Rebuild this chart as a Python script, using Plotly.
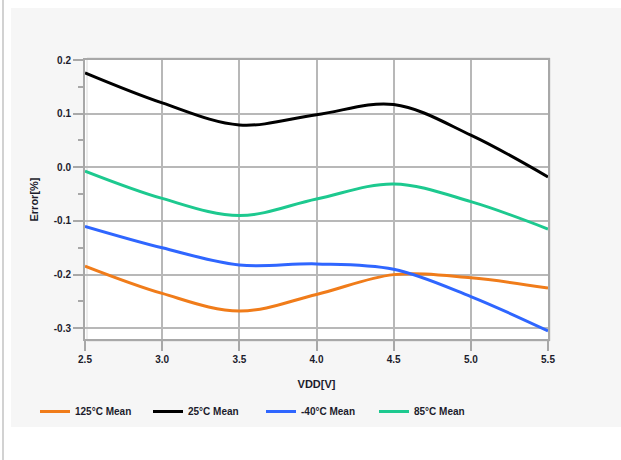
import plotly.graph_objects as go

# ---- data ----
vdd = [2.5, 3.0, 3.5, 4.0, 4.5, 5.0, 5.5]
err_125c = [-0.184, -0.235, -0.268, -0.237, -0.200, -0.206, -0.225]
err_25c = [0.176, 0.120, 0.079, 0.098, 0.117, 0.060, -0.018]
err_m40c = [-0.110, -0.150, -0.182, -0.180, -0.190, -0.241, -0.305]
err_85c = [-0.007, -0.058, -0.090, -0.059, -0.031, -0.064, -0.115]
series_names = ["125°C Mean", "25°C Mean", "-40°C Mean", "85°C Mean"]
x_tickvals = [2.5, 3.0, 3.5, 4.0, 4.5, 5.0, 5.5]
y_tickvals = [0.2, 0.1, 0.0, -0.1, -0.2, -0.3]
y_ticktext = ["0.2", "0.1", "0.0", "-0.1", "-0.2", "-0.3"]

# ---- layout geometry (pixels) ----
W, H = 621, 460
ML, MR, MT, MB = 85, 73, 60, 121
PW, PH = W - ML - MR, H - MT - MB


def px2x(px):
    return (px - ML) / PW


def py2y(py):
    return (H - MB - py) / PH


colors = ["#F07C1A", "#000000", "#2F66FF", "#1DC98F"]
series = [err_125c, err_25c, err_m40c, err_85c]

fig = go.Figure()
for name, ys, c in zip(series_names, series, colors):
    fig.add_trace(go.Scatter(
        x=vdd, y=ys, name=name, mode="lines",
        line=dict(color=c, width=3, shape="spline", smoothing=1.0),
        hoverinfo="skip",
    ))

FAM = "Liberation Sans, Arial, sans-serif"
font_tick = dict(family=FAM, size=10, color="#1c1c2c", weight="bold")
font_title = dict(family=FAM, size=11, color="#1c1c2c", weight="bold")

fig.update_layout(
    width=W, height=H,
    margin=dict(l=ML, r=MR, t=MT, b=MB, autoexpand=False),
    paper_bgcolor="#F6F6F6",
    plot_bgcolor="#FFFFFF",
    font=font_tick,
    showlegend=True,
    legend=dict(
        orientation="h", x=px2x(35), xanchor="left", y=py2y(397), yanchor="top",
        font=font_tick, bgcolor="rgba(0,0,0,0)", entrywidth=68, entrywidthmode="pixels",
        itemwidth=30,
    ),
    xaxis=dict(
        range=[2.5, 5.5], tickvals=x_tickvals, tickformat=".1f",
        showgrid=True, gridcolor="#B8B8B8", gridwidth=1.5,
        showline=True, linecolor="#A8A8A8", linewidth=2, mirror=True,
        ticks="outside", ticklen=10, tickcolor="#A8A8A8", tickwidth=2,
        zeroline=False, tickfont=font_tick,
        title=dict(text="VDD[V]", font=font_title, standoff=16),
    ),
    yaxis=dict(
        range=[-0.32, 0.2], tickvals=y_tickvals, ticktext=y_ticktext,
        showgrid=True, gridcolor="#B8B8B8", gridwidth=1.5,
        showline=True, linecolor="#A8A8A8", linewidth=2, mirror=True,
        ticks="outside", ticklen=10, tickcolor="#A8A8A8", tickwidth=2,
        minor=dict(dtick=0.05, ticks="outside", ticklen=5, tickcolor="#A8A8A8", tickwidth=1.5, showgrid=False),
        zeroline=False, tickfont=font_tick,
        title=dict(text="Error[%]", font=font_title, standoff=13),
    ),
)

# white page outside the grey panel, and the thin grey rule on the far left
white = "#FFFFFF"
shapes = [
    dict(type="rect", xref="paper", yref="paper", x0=px2x(0), x1=px2x(W), y0=py2y(0), y1=py2y(8),
         fillcolor=white, line=dict(width=0), layer="below"),
    dict(type="rect", xref="paper", yref="paper", x0=px2x(0), x1=px2x(11), y0=py2y(0), y1=py2y(H),
         fillcolor=white, line=dict(width=0), layer="below"),
    dict(type="rect", xref="paper", yref="paper", x0=px2x(0), x1=px2x(W), y0=py2y(427), y1=py2y(H),
         fillcolor=white, line=dict(width=0), layer="below"),
    dict(type="line", xref="paper", yref="paper", x0=px2x(3), x1=px2x(3), y0=py2y(0), y1=py2y(H),
         line=dict(color="#D2D2D2", width=2), layer="below"),
    dict(type="rect", xref="paper", yref="paper", x0=px2x(ML + 2), x1=px2x(ML + PW + 2),
         y0=py2y(MT + PH + 2), y1=py2y(MT - 2),
         line=dict(color="#DADADA", width=1), layer="below"),
]
fig.update_layout(shapes=shapes)

fig.write_html(
    "out.html",
    config={"displayModeBar": False},
    post_script="document.body.style.margin='0';document.body.style.overflow='hidden';",
)
